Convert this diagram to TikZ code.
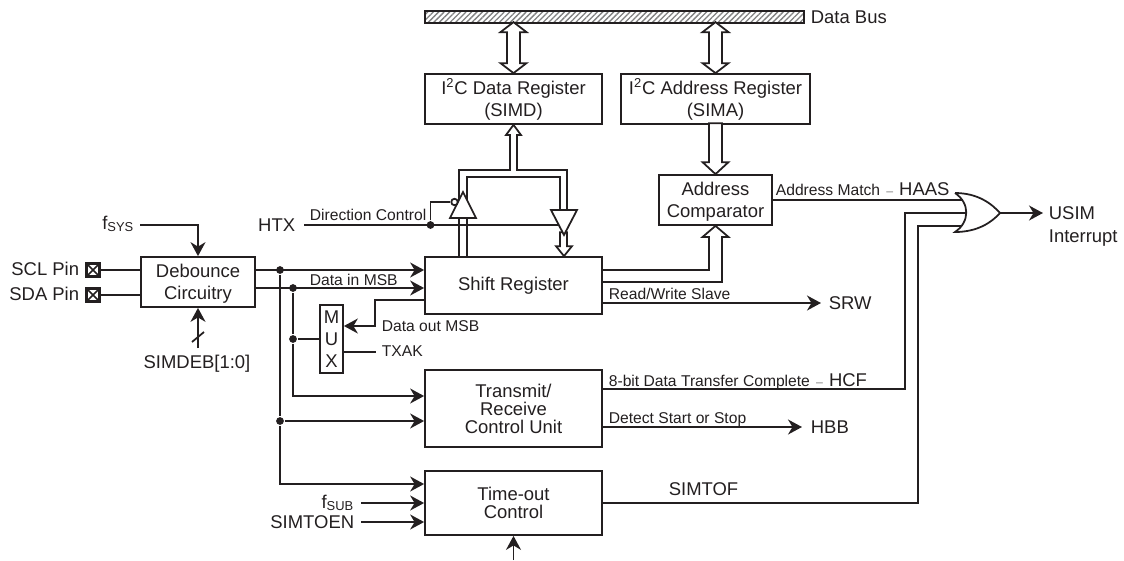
\documentclass[tikz,border=0pt]{standalone}
\usepackage{fontspec}
\setmainfont{Liberation Sans}
\usepackage{tikz}
\usetikzlibrary{arrows.meta, patterns.meta}
\definecolor{inkblack}{HTML}{231F20}
\newcommand{\bigfont}{\fontsize{10.5}{12.6}\selectfont}
\newcommand{\tightfont}{\fontsize{10.5}{10.2}\selectfont}
\newcommand{\smallfont}{\fontsize{8.9}{10.5}\selectfont}
\newcommand{\dashmark}{{\hspace{1pt}\fontsize{7}{7}\selectfont\color{gray}--\hspace{1pt}}}

\begin{document}
\begin{tikzpicture}[
    x=0.2mm, y=-0.2mm, color=inkblack, line width=1pt,
    box/.style   = {draw, align=center, font=\bigfont, inner sep=0pt},
    wide/.style  = {box, minimum width=35.4mm},
    tag/.style   = {font=\smallfont, anchor=base west, inner sep=0pt},
    sig/.style   = {font=\bigfont, anchor=base west, inner sep=0pt},
    sigr/.style  = {font=\bigfont, anchor=base east, inner sep=0pt},
    arr/.style   = {-{Stealth[length=2.8mm, width=3mm, inset=0.9mm]}},
    hollow/.style = {draw, fill=white, line join=miter},
    dot/.style   = {circle, fill, inner sep=0pt, minimum size=1.55mm},
    padbox/.style = {draw, line width=1.3pt, minimum size=2.6mm, inner sep=0pt,
                     path picture={\draw[line width=0.9pt]
                       (path picture bounding box.south west) -- (path picture bounding box.north east)
                       (path picture bounding box.north west) -- (path picture bounding box.south east);}},
  ]
    \useasboundingbox (0,0) rectangle (1124,560);

    %% ── Main blocks ─────────────────────────────────────────────────────────
    \node[draw, minimum width=75.8mm, minimum height=2.4mm, inner sep=0pt,
          pattern={Lines[angle=45, distance=2.2pt, line width=0.75pt]}, pattern color=gray]
          (bus) at (614.5, 17) {};
    \node[wide, minimum height=10mm]                     (simd)  at (513.5, 99)  {I\textsuperscript{2}C Data Register\\(SIMD)};
    \node[box, minimum width=37.8mm, minimum height=10mm] (sima)  at (715.5, 99)  {I\textsuperscript{2}C Address Register\\(SIMA)};
    \node[box, minimum width=22.6mm, minimum height=10mm, text depth=0pt] (comp)  at (715.5, 200) {Address\\Comparator};
    \node[wide, minimum height=11.4mm]                   (shift) at (513.5, 285.5) {Shift Register};
    \node[wide, minimum height=15.4mm, font=\tightfont]  (trx)   at (513.5, 408.5) {Transmit/\\Receive\\Control Unit};
    \node[wide, minimum height=12.8mm, font=\tightfont]  (tout)  at (513.5, 503)  {Time-out\\Control};
    \node[box, minimum width=22.8mm, minimum height=10mm, text depth=0pt] (deb)  at (198, 282)    {Debounce\\Circuitry};
    \node[box, minimum width=4.6mm, minimum height=13.6mm]  (mux)  at (331.5, 339) {M\\U\\X};

    %% Pads on the left
    \node[padbox] (sclpad) at (93, 270) {};
    \node[padbox] (sdapad) at (93, 295) {};
    \node[sigr] (scl) at (80, 275.5) {SCL Pin};
    \node[sigr] (sda) at (80, 300.5) {SDA Pin};

    %% Junctions
    \node[dot] (jclk)  at (280, 270) {};
    \node[dot] (jdat)  at (293, 288) {};
    \node[dot] (jmux)  at (293, 339) {};
    \node[dot] (jtrx)  at (280, 421) {};
    \node[dot] (jdir)  at (430.5, 225) {};

    %% Free ends
    \coordinate (fsysend) at (140, 225);
    \coordinate (debend)  at (198, 348);
    \coordinate (htxend)  at (304, 225);
    \coordinate (muxout)  at (375, 326);
    \coordinate (muxsel)  at (376, 352);
    \coordinate (subend)  at (361, 503);
    \coordinate (toenend) at (361, 522);
    \coordinate (btmend)  at (513.5, 560);
    \coordinate (bufup)   at (463, 218);
    \coordinate (bufdn)   at (564, 235);
    \coordinate (orA)     at (962, 200);
    \coordinate (orB)     at (966, 213);
    \coordinate (orC)     at (962, 226);
    \coordinate (orout)   at (1000, 213);
    \coordinate (hcfup)   at (905, 389);
    \coordinate (toutup)  at (918, 503);

    %% ── Debounce inputs ─────────────────────────────────────────────────────
    \draw (sclpad) -- (deb.west |- sclpad);
    \draw (sdapad) -- (deb.west |- sdapad);
    \draw[arr] (fsysend) -| (deb.north);
    \draw[arr] (debend) -- (deb.south);
    \draw (192,342) -- (204,332);

    %% ── Debounce outputs ────────────────────────────────────────────────────
    \draw[arr] (deb.east |- jclk) -- (shift.west |- jclk);
    \draw[arr] (deb.east |- jdat) -- (shift.west |- jdat);
    \draw (jclk) -- (jtrx);
    \draw[arr] (jtrx) -- (trx.west |- jtrx);
    \draw[arr] (jtrx) |- (tout.west |- 0,484);
    \draw (jdat) -- (jmux);
    \draw (jmux) -- (mux.west |- jmux);
    \draw[arr] (jmux) |- (trx.west |- 0,396);

    %% MUX
    \draw[arr] (shift.west |- 0,300) -| (muxout) -- (mux.east |- muxout);
    \draw (mux.east |- muxsel) -- (muxsel);

    %% Time-out inputs
    \draw[arr] (subend) -- (tout.west |- subend);
    \draw[arr] (toenend) -- (tout.west |- toenend);
    \draw[arr] (btmend) -- (tout.south);

    %% ── Hollow buses ────────────────────────────────────────────────────────
    \foreach \reg in {simd, sima}
      \draw[hollow] (\reg.north) -- ++(-13,-10) -- ++(6.5,0) -- ++(0,-31) -- ++(-6.5,0) -- ++(13,-10)
                    -- ++(13,10) -- ++(-6.5,0) -- ++(0,31) -- ++(6.5,0) -- cycle;
    \draw[hollow] (comp.north) -- ++(-13,-12) -- ++(6.5,0) -- ++(0,-39) -- ++(13,0) -- ++(0,39) -- ++(6.5,0) -- cycle;

    %% Shift register to comparator
    \draw (shift.east |- 0,270) -- (709,270) -- (709,237) -- (702.5,237) -- (comp.south)
          -- (728.5,237) -- (722,237) -- (722,282) -- (shift.east |- 0,282);

    %% Loop through both buffers
    \draw (459,218) -- (459,170) -- (510,170) -- (510,135) -- (506,135) -- (simd.south)
          -- (521,135) -- (517,135) -- (517,170) -- (567,170) -- (567,210);
    \draw (467,210) -- (467,177) -- (560,177) -- (560,210);
    \draw (459,257) -- (459,218) (467,257) -- (467,218);
    \draw[hollow] (shift.north -| bufdn) -- ++(-8,-10) -- ++(4,0) -- ++(0,-14) -- ++(7,0) -- ++(0,14) -- ++(5,0) -- cycle;
    \draw[hollow] (bufup) -- ++(-13,0) -- ++(13,-26) -- ++(13,26) -- cycle;
    \draw[hollow] (bufdn) -- ++(-13,-25) -- ++(26,0) -- cycle;

    %% Direction control
    \draw (htxend) -- (558,225);
    \node[circle, draw, fill=white, inner sep=0pt, minimum size=1.3mm] (bubble) at (454.5,202) {};
    \draw (jdir) |- (bubble);

    %% ── Status outputs ──────────────────────────────────────────────────────
    \draw[arr] (shift.east |- 0,303) -- (821,303);
    \draw[arr] (trx.east |- 0,427) -- (802,427);
    \draw (comp.east |- orA) -- (orA);
    \draw (trx.east |- hcfup) -- (hcfup) |- (orB);
    \draw (tout.east |- toutup) -- (toutup) |- (orC);

    %% OR gate
    \draw[hollow, fill=none] (955,193) .. controls (978,193) and (992,204) .. (orout)
                  .. controls (992,222) and (978,232) .. (955,232)
                  .. controls (970,222) and (970,203) .. (955,193);
    \draw[arr] (orout) -- (1043,213);

    %% ── Labels ──────────────────────────────────────────────────────────────
    \node[sig] (busl) at (810, 23) {Data Bus};
    \node[sigr] (fsys) at (135, 229) {f\textsubscript{SYS}};
    \node[sigr] (htx) at (296, 231) {HTX};
    \node[sig, anchor=base] (simdeb) at (197, 368) {SIMDEB[1:0]};
    \node[tag] (dirl)  at (309, 220) {Direction Control};
    \node[tag] (dinl)  at (309, 285) {Data in MSB};
    \node[tag] (doutl) at (381, 331) {Data out MSB};
    \node[tag] (txak)  at (381, 356) {TXAK};
    \node[tag] (rwl)   at (608, 299) {Read/Write Slave};
    \node[sig] (srw)   at (828, 309) {SRW};
    \node[tag] (hcfl)  at (608, 386) {8-bit Data Transfer Complete \dashmark{} \bigfont HCF};
    \node[tag] (detl)  at (608, 423) {Detect Start or Stop};
    \node[sig] (hbb)   at (810, 433) {HBB};
    \node[sig] (simtof) at (668, 495) {SIMTOF};
    \node[tag] (matchl) at (775, 195) {Address Match \dashmark{} \bigfont HAAS};
    \node[sig] (usim)  at (1048, 219) {USIM};
    \node[sig] (irq)   at (1048, 242) {Interrupt};
    \node[sigr] (fsub) at (355, 508) {f\textsubscript{SUB}};
    \node[sigr] (toen) at (355, 528) {SIMTOEN};

  \end{tikzpicture}
\end{document}
